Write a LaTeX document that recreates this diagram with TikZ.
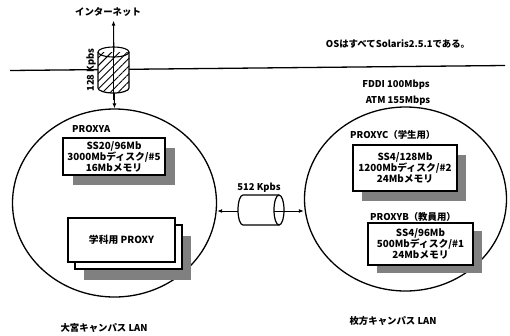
\documentclass[tikz,border=0pt]{standalone}
\usepackage{fontspec}
\setmainfont{Noto Sans CJK JP}
\usetikzlibrary{shapes.geometric,shadows,patterns.meta,arrows.meta}
\begin{document}
\begin{tikzpicture}[x=1pt,y=-1pt,
  every node/.style={font=\bfseries\fontsize{9.4}{11}\selectfont, inner sep=0pt},
  ln/.style={line width=1.3pt},
  lan/.style={ellipse, draw, line width=1.3pt, minimum width=204pt, minimum height=188pt},
  srv/.style={rectangle, draw, fill=white, line width=1.2pt, align=center, font=\bfseries\fontsize{9.8}{11}\selectfont},
  shd/.style={drop shadow={shadow xshift=#1pt, shadow yshift=-10pt, fill=black!50, opacity=1}},
  arr/.style={line width=1pt, -{Latex[length=5pt,width=4pt]}},
]
\useasboundingbox (0,0) rectangle (510,335);

% backbone line
\coordinate (bl) at (10,70.5);
\coordinate (br) at (505,65.5);
\draw[ln] (bl) -- (br);

% campus LANs
\node[lan] (lanA) at (114.5,203) {};
\node[lan, minimum width=202pt, minimum height=184pt] (lanB) at (405.5,199) {};

% internet link
\node (inet) at (108,12) {インターネット};
\draw[line width=1pt, {Latex[length=5pt,width=4pt]}-{Latex[length=5pt,width=4pt]}] ([yshift=-4pt]inet.south -| 113.5,0) -- (lanA.north);
% vertical cylinder (hatched)
\path[fill=white] (98,52) -- (98,88) arc[start angle=180, end angle=0, x radius=15.5, y radius=5] -- (129,52) -- cycle;
\path[pattern={Lines[angle=45, distance=5.5pt, line width=0.9pt]}] (98,52) -- (98,88) arc[start angle=180, end angle=0, x radius=15.5, y radius=5] -- (129,52) -- cycle;
\draw[line width=1.2pt] (98,52) -- (98,88) arc[start angle=180, end angle=0, x radius=15.5, y radius=5] -- (129,52);
\draw[line width=1.1pt] (113.5,52) ellipse[x radius=15.5, y radius=5];
\draw[line width=1pt] (113.5,30) -- (113.5,100);
\node[rotate=90] (k128) at (91,70) {128 Kpbs};

% inter-campus link
\coordinate (cylL) at (238,211);
\coordinate (cylR) at (284,211);
\draw[arr] (cylL) -- (lanA.east |- cylL);
\draw[arr] (cylR) -- (lanB.west |- cylR);
\fill[white] (279,195) -- (243,195) arc[start angle=270, end angle=90, x radius=5, y radius=15] -- (279,225) arc[start angle=90, end angle=-90, x radius=5, y radius=15] -- cycle;
\draw[line width=1.2pt] (279,195) -- (243,195) arc[start angle=270, end angle=90, x radius=5, y radius=15] -- (279,225);
\draw[line width=1.2pt] (279,210) ellipse[x radius=5, y radius=15];
\draw[line width=1pt] (274,211) -- (cylR);
\node (k512) at (259,188) {512 Kpbs};

% notes
\node (os) at (398,44) {OSはすべてSolaris2.5.1である。};
\node (fddi) at (396,85) {FDDI 100Mbps};
\node (atm) at (398,101) {ATM 155Mbps};

% left campus servers
\node[anchor=west] (la) at (72,129) {PROXYA};
\node[srv, shd=10, minimum width=102pt, minimum height=37pt] (pa) at (114,156.5) {SS20/96Mb\\3000Mbディスク/\#5\\16Mbメモリ};
\node[srv, minimum width=107pt, minimum height=44pt,
  drop shadow={shadow xshift=16pt, shadow yshift=-18pt, fill=black!50, opacity=1},
  copy shadow={shadow xshift=7pt, shadow yshift=-7pt, draw=black, line width=1.2pt, fill=white}] (dept) at (121.5,240) {学科用 PROXY};

% right campus servers
\node[anchor=west] (lc) at (350,135) {PROXYC（学生用）};
\node[srv, shd=9, minimum width=104pt, minimum height=46pt] (pc) at (405,168) {SS4/128Mb\\1200Mbディスク/\#2\\24Mbメモリ};
\node[anchor=west] (lb) at (370,217) {PROXYB（教員用）};
\node[srv, drop shadow={shadow xshift=9pt, shadow yshift=-8pt, fill=black!50, opacity=1}, minimum width=105pt, minimum height=42pt] (pb) at (420.5,244) {SS4/96Mb\\500Mbディスク/\#1\\24Mbメモリ};

% campus names
\node (nA) at (104,328) {大宮キャンパス LAN};
\node (nB) at (393,321) {枚方キャンパス LAN};
\end{tikzpicture}
\end{document}
